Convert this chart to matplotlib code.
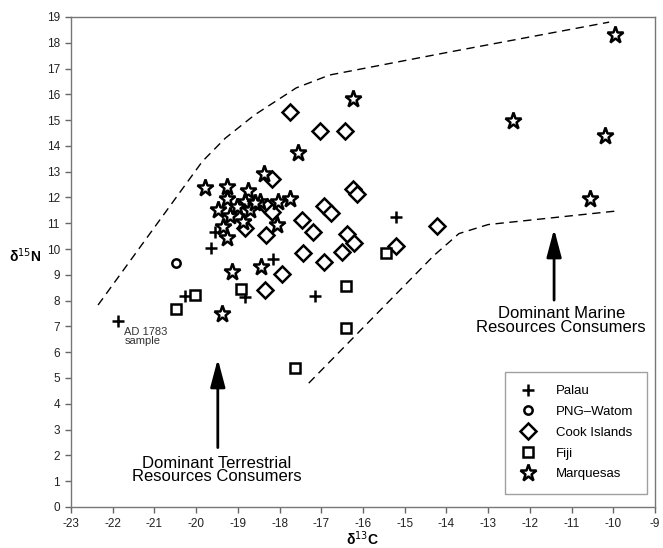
import matplotlib
matplotlib.use("Agg")
import matplotlib.pyplot as plt

plt.rcParams['font.family'] = ['Liberation Sans', 'DejaVu Sans']
plt.rcParams['axes.unicode_minus'] = False

# isotope values (d13C, d15N)
palau_c = [-21.87, -20.27, -19.64, -19.55, -18.84, -18.15, -17.15, -15.22]
palau_n = [7.21, 8.19, 10.03, 10.67, 8.15, 9.62, 8.19, 11.23]

png_c = [-20.48]
png_n = [9.47]

cook_c = [-17.75, -17.03, -16.43, -18.19, -16.25, -16.15, -16.93, -16.77, -17.47, -17.19,
          -18.32, -16.39, -16.21, -16.51, -17.43, -16.93, -14.22, -15.22, -17.93, -18.35,
          -18.83, -18.29, -18.19]
cook_n = [15.32, 14.59, 14.59, 12.70, 12.31, 12.13, 11.67, 11.41, 11.12, 10.67,
          10.54, 10.58, 10.24, 9.90, 9.83, 9.51, 10.90, 10.12, 9.02, 8.41,
          10.80, 11.64, 11.45]

fiji_c = [-20.47, -20.03, -18.92, -17.63, -16.41, -16.41, -15.45]
fiji_n = [7.67, 8.22, 8.44, 5.40, 8.57, 6.93, 9.83]

marq_c = [-16.23, -17.55, -18.37, -19.79, -19.25, -18.75, -17.75, -18.03, -18.47, -18.83,
          -19.27, -19.47, -18.71, -19.19, -19.35, -18.87, -18.07, -19.25, -18.59, -19.03,
          -19.39, -19.15, -18.44, -12.41, -10.19, -9.95, -10.57]
marq_n = [15.80, 13.73, 12.93, 12.35, 12.42, 12.26, 11.93, 11.83, 11.83, 11.83,
          11.93, 11.51, 11.51, 11.28, 10.86, 11.06, 10.93, 10.41, 11.77, 11.64,
          7.48, 9.12, 9.31, 14.97, 14.39, 18.29, 11.93]

# dashed boundaries
upper_c = [-22.35, -19.85, -19.3, -18.6, -17.6, -16.8, -13.9, -10.1]
upper_n = [7.83, 13.40, 14.30, 15.20, 16.25, 16.75, 17.65, 18.80]
lower_c = [-17.3, -14.3, -13.7, -13.0, -9.9]
lower_n = [4.80, 9.75, 10.60, 10.95, 11.48]

fig = plt.figure(figsize=(6.63, 5.48), dpi=100)
ax = fig.add_axes([0.107, 0.075, 0.881, 0.894])

ax.plot(upper_c, upper_n, color='black', lw=1, dashes=(6, 4))
ax.plot(lower_c, lower_n, color='black', lw=1, dashes=(6, 4))

mk = dict(linestyle='none', color='black', markerfacecolor='white', markeredgewidth=1.8)
ax.plot(palau_c, palau_n, marker='+', ms=9, label='Palau', **mk)
ax.plot(png_c, png_n, marker='o', ms=6, label='PNG\u2013Watom', **mk)
ax.plot(cook_c, cook_n, marker='D', ms=8, label='Cook Islands', **mk)
ax.plot(fiji_c, fiji_n, marker='s', ms=7.5, label='Fiji', **mk)
ax.plot(marq_c, marq_n, marker='*', ms=12.5, label='Marquesas', **mk)

ax.text(-21.72, 6.6, 'AD 1783\nsample', fontsize=8, color='#333333',
        ha='left', va='center', linespacing=0.85)

arrow = dict(arrowstyle='-|>,head_length=1.7,head_width=0.45', color='black', lw=2,
             shrinkA=0, shrinkB=0)
ax.annotate('', xy=(-19.48, 5.74), xytext=(-19.48, 2.3), arrowprops=arrow)
ax.text(-19.5, 1.43, 'Dominant Terrestrial\nResources Consumers', fontsize=12,
        ha='center', va='center', linespacing=0.9)

ax.annotate('', xy=(-11.42, 10.78), xytext=(-11.42, 8.02), arrowprops=arrow)
ax.text(-11.25, 7.23, 'Dominant Marine\nResources Consumers', fontsize=12,
        ha='center', va='center', linespacing=0.9)

ax.set_xlim(-23, -9)
ax.set_ylim(0, 19)
ax.set_xticks(range(-23, -8))
ax.set_yticks(range(0, 20))
ax.tick_params(labelsize=8.5, color='#666666', labelcolor='#222222', length=4.5, width=1,
               pad=3.5)
for sp in ax.spines.values():
    sp.set_color('#777777')
    sp.set_linewidth(1)

ax.set_xlabel('\u03b4$^{13}$C', fontsize=10, fontweight='bold', va='center')
ax.set_ylabel('\u03b4$^{15}$N', fontsize=10, fontweight='bold', rotation=0, va='center',
              ha='center')
ax.xaxis.set_label_coords(0.5, -0.064)
ax.yaxis.set_label_coords(-0.078, 0.512)

leg = ax.legend(loc='lower right', bbox_to_anchor=(0.986, 0.027), fontsize=9.5,
                frameon=True, fancybox=False, edgecolor='#888888', borderpad=1.0,
                labelspacing=0.65, handletextpad=1.4, handlelength=1.5, numpoints=1,
                borderaxespad=0)
leg.get_frame().set_linewidth(1)

fig.savefig('out.png', dpi=100)
